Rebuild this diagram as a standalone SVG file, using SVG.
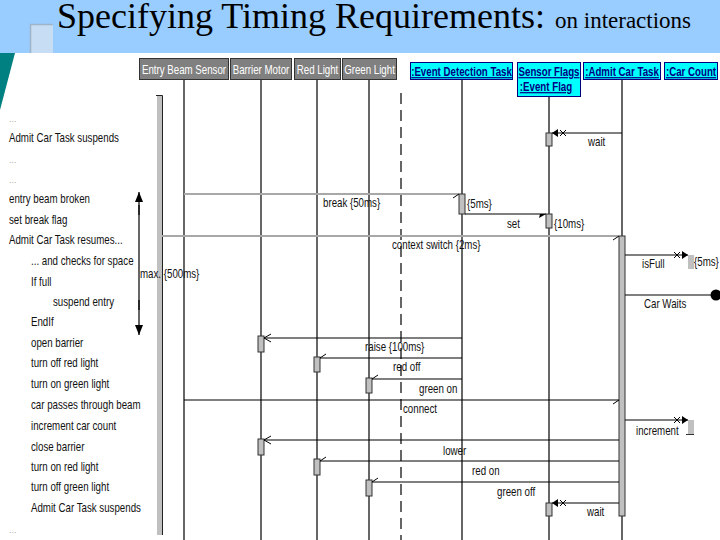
<svg xmlns="http://www.w3.org/2000/svg" width="720" height="540" viewBox="0 0 720 540">
<style>
.t{font-family:"Liberation Sans Narrow","Arial Narrow","Liberation Sans",sans-serif;font-size:12px;fill:#111}
.dots{font-family:"Liberation Sans",sans-serif;font-size:9px;fill:#aaa}
.hdr{fill:#808080;stroke:#333;stroke-width:1}
.hdrt{font-family:"Liberation Sans Narrow","Arial Narrow","Liberation Sans",sans-serif;font-size:12px;fill:#fff;text-anchor:middle}
.obj{fill:#00ffff;stroke:#000080;stroke-width:1}
.objt{font-family:"Liberation Sans Narrow","Arial Narrow","Liberation Sans",sans-serif;font-size:12px;fill:#000080;text-anchor:middle;text-decoration:underline;font-weight:bold}
.life{stroke:#000;stroke-width:1.2;fill:none}
.act{fill:#c0c0c0;stroke:#333;stroke-width:1}
.msg{stroke:#000;stroke-width:1.2;fill:none}
.gmsg{stroke:#a8a8a8;stroke-width:2;fill:none}
</style>
<defs>
<marker id="open" markerUnits="userSpaceOnUse" orient="auto" viewBox="-10 -6 12 12" markerWidth="12" markerHeight="12" refX="0" refY="0">
<path d="M-7,-4 L0,0 L-7,4" fill="none" stroke="#000" stroke-width="1"/>
</marker>
<marker id="tick" markerUnits="userSpaceOnUse" orient="auto" viewBox="-10 -6 12 12" markerWidth="12" markerHeight="12" refX="0" refY="0">
<path d="M-6,4 L0,0" fill="none" stroke="#000" stroke-width="1"/>
</marker>
<marker id="half" markerUnits="userSpaceOnUse" orient="auto" viewBox="-10 -6 12 12" markerWidth="12" markerHeight="12" refX="0" refY="0">
<path d="M0,0 L-7,4 L-6,0 Z" fill="#000"/>
</marker>
<marker id="balk" markerUnits="userSpaceOnUse" orient="auto" viewBox="-16 -6 18 12" markerWidth="18" markerHeight="12" refX="0" refY="0">
<path d="M0,0 L-6,-4 L-6,4 Z" fill="#000"/>
<path d="M-8,-3 L-14,3 M-8,3 L-14,-3" stroke="#000" stroke-width="1" fill="none"/>
</marker>
<marker id="up" markerUnits="userSpaceOnUse" orient="auto" viewBox="-10 -6 12 12" markerWidth="12" markerHeight="12" refX="0" refY="0">
<path d="M0,0 L-10,-4 L-10,4 Z" fill="#000"/>
</marker>
</defs>

<!-- title banner -->
<g id="banner">
<rect x="0" y="0" width="720" height="53" fill="#99ccff"/>
<rect x="30" y="24" width="23" height="29" fill="#c6ddf3"/>
<path d="M30.5,53 V24.5 H53" fill="none" stroke="#a0b4c8" stroke-width="1.5"/>
<polygon points="0,53 15,53 0,110" fill="#008080"/>
<text x="57" y="28" font-family="Liberation Serif,serif" font-size="36" fill="#000">Specifying Timing Requirements:<tspan x="555" font-size="23">on interactions</tspan></text>
</g>

<!-- left narrative -->
<g id="narrative">
<text class="dots" x="9" y="122">...</text>
<text class="t" transform="translate(9 142) scale(.81 1)">Admit Car Task suspends</text>
<text class="dots" x="9" y="163">...</text>
<text class="dots" x="9" y="183">...</text>
<text class="t" transform="translate(9 203) scale(.81 1)">entry beam broken</text>
<text class="t" transform="translate(9 224) scale(.81 1)">set break flag</text>
<text class="t" transform="translate(9 244) scale(.81 1)">Admit Car Task resumes...</text>
<text class="t" transform="translate(31 265) scale(.81 1)">... and checks for space</text>
<text class="t" transform="translate(31 286) scale(.81 1)">If full</text>
<text class="t" transform="translate(53 306) scale(.81 1)">suspend entry</text>
<text class="t" transform="translate(31 326) scale(.81 1)">EndIf</text>
<text class="t" transform="translate(31 347) scale(.81 1)">open barrier</text>
<text class="t" transform="translate(31 367) scale(.81 1)">turn off red light</text>
<text class="t" transform="translate(31 388) scale(.81 1)">turn on green light</text>
<text class="t" transform="translate(31 409) scale(.81 1)">car passes through beam</text>
<text class="t" transform="translate(31 430) scale(.81 1)">increment car count</text>
<text class="t" transform="translate(31 451) scale(.81 1)">close barrier</text>
<text class="t" transform="translate(31 471) scale(.81 1)">turn on red light</text>
<text class="t" transform="translate(31 491) scale(.81 1)">turn off green light</text>
<text class="t" transform="translate(31 512) scale(.81 1)">Admit Car Task suspends</text>
<text class="dots" x="9" y="533">...</text>
</g>

<!-- max 500ms constraint -->
<g id="constraint">
<line x1="139" y1="215" x2="139" y2="192" class="msg" marker-end="url(#up)"/>
<line x1="139" y1="300" x2="139" y2="335" class="msg" marker-end="url(#up)"/>
<line x1="139" y1="205" x2="139" y2="310" class="msg"/>
</g>

<!-- left activation (Admit Car Task context) -->
<g id="leftbar">
<rect x="157" y="95" width="5" height="440" fill="#c0c0c0"/>
<path d="M156,95.5 H162.5 V535" fill="none" stroke="#222" stroke-width="1"/>
</g>

<!-- lifelines -->
<g id="entry-beam-sensor">
<rect class="hdr" x="139.5" y="58.5" width="89" height="21"/>
<text class="hdrt" transform="translate(184 74) scale(.81 1)">Entry Beam Sensor</text>
<line class="life" x1="184" y1="80" x2="184" y2="540"/>
</g>
<g id="barrier-motor">
<rect class="hdr" x="230.5" y="58.5" width="61" height="21"/>
<text class="hdrt" transform="translate(261 74) scale(.81 1)">Barrier Motor</text>
<line class="life" x1="261" y1="80" x2="261" y2="540"/>
<rect class="act" x="258" y="336" width="6" height="16"/>
<rect class="act" x="258" y="439" width="6" height="16"/>
</g>
<g id="red-light">
<rect class="hdr" x="294.5" y="58.5" width="46" height="21"/>
<text class="hdrt" transform="translate(317.5 74) scale(.81 1)">Red Light</text>
<line class="life" x1="317" y1="80" x2="317" y2="540"/>
<rect class="act" x="314" y="357" width="6" height="15"/>
<rect class="act" x="314" y="459" width="6" height="16"/>
</g>
<g id="green-light">
<rect class="hdr" x="342.5" y="58.5" width="54" height="21"/>
<text class="hdrt" transform="translate(369.5 74) scale(.81 1)">Green Light</text>
<line class="life" x1="369" y1="80" x2="369" y2="540"/>
<rect class="act" x="366" y="378" width="6" height="15"/>
<rect class="act" x="366" y="480" width="6" height="16"/>
</g>
<g id="boundary">
<line x1="401" y1="93" x2="401" y2="540" stroke="#000" stroke-width="1.2" stroke-dasharray="11 6"/>
</g>
<g id="event-detection-task">
<rect class="obj" x="410.5" y="62.5" width="102" height="17"/>
<text class="objt" transform="translate(461.5 76) scale(.81 1)">:Event Detection Task</text>
<line class="life" x1="462" y1="80" x2="462" y2="540"/>
<rect class="act" x="459" y="194" width="6" height="20"/>
<text class="t" transform="translate(467 208) scale(.81 1)">{5ms}</text>
</g>
<g id="sensor-flags">
<rect class="obj" x="517.5" y="62.5" width="63" height="34"/>
<text class="objt" transform="translate(549 76) scale(.81 1)">Sensor Flags</text>
<text class="objt" transform="translate(546 91) scale(.81 1)">:Event Flag</text>
<line class="life" x1="549" y1="97" x2="549" y2="540"/>
<rect class="act" x="546" y="133" width="6" height="13"/>
<rect class="act" x="546" y="214" width="6" height="14"/>
<text class="t" transform="translate(554 228) scale(.81 1)">{10ms}</text>
<rect class="act" x="546" y="503" width="6" height="13"/>
</g>
<g id="admit-car-task">
<rect class="obj" x="583.5" y="62.5" width="77" height="17"/>
<text class="objt" transform="translate(622 76) scale(.81 1)">:Admit Car Task</text>
<line class="life" x1="622" y1="80" x2="622" y2="540"/>
<rect class="act" x="619" y="236" width="6" height="280"/>
</g>
<g id="car-count">
<rect class="obj" x="664.5" y="62.5" width="53" height="17"/>
<text class="objt" transform="translate(691 76) scale(.81 1)">:Car Count</text>
<rect x="688" y="255" width="6" height="14" fill="#c0c0c0"/>
<text class="t" transform="translate(694 266) scale(.81 1)">{5ms}</text>
<rect x="688" y="420" width="6" height="14" fill="#c0c0c0"/>
<line x1="686" y1="434.5" x2="694" y2="434.5" stroke="#333" stroke-width="1"/>
</g>

<!-- messages -->
<g id="connectors">
<line class="msg" x1="622" y1="133" x2="552" y2="133" marker-end="url(#balk)"/>
<text class="t" transform="translate(588 146) scale(.81 1)">wait</text>

<line class="gmsg" x1="184" y1="194" x2="459" y2="194"/>
<path d="M453,198 L459,194" stroke="#000" stroke-width="1" fill="none"/>
<text class="t" transform="translate(323 207) scale(.81 1)">break {50ms}</text>

<line class="msg" x1="465" y1="214" x2="546" y2="214" marker-end="url(#half)"/>
<text class="t" transform="translate(507 228) scale(.81 1)">set</text>

<line class="gmsg" x1="162" y1="236" x2="619" y2="236"/>
<path d="M613,240 L619,236" stroke="#000" stroke-width="1" fill="none"/>
<text class="t" transform="translate(392 249) scale(.81 1)">context switch {2ms}</text>

<line class="msg" x1="625" y1="255" x2="688" y2="255" marker-end="url(#balk)"/>
<text class="t" transform="translate(642 268) scale(.81 1)">isFull</text>

<line class="msg" x1="625" y1="295" x2="712" y2="295"/>
<circle cx="716" cy="295" r="5.5" fill="#000"/>
<text class="t" transform="translate(644 308) scale(.81 1)" font-size="13">Car Waits</text>

<line class="msg" x1="462" y1="338" x2="264" y2="338" marker-end="url(#open)"/>
<text class="t" transform="translate(365 351) scale(.81 1)">raise {100ms}</text>

<line class="msg" x1="462" y1="358" x2="320" y2="358" marker-end="url(#tick)"/>
<text class="t" transform="translate(393 371) scale(.81 1)">red off</text>

<line class="msg" x1="462" y1="379" x2="372" y2="379" marker-end="url(#tick)"/>
<text class="t" transform="translate(419 393) scale(.81 1)">green on</text>

<line class="msg" x1="184" y1="400" x2="619" y2="400" marker-end="url(#tick)"/>
<text class="t" transform="translate(403 413) scale(.81 1)">connect</text>

<line class="msg" x1="625" y1="420" x2="688" y2="420" marker-end="url(#balk)"/>
<text class="t" transform="translate(636 435) scale(.81 1)">increment</text>

<line class="msg" x1="619" y1="440" x2="264" y2="440" marker-end="url(#open)"/>
<text class="t" transform="translate(443 455) scale(.81 1)">lower</text>

<line class="msg" x1="619" y1="461" x2="320" y2="461" marker-end="url(#tick)"/>
<text class="t" transform="translate(472 475) scale(.81 1)">red on</text>

<line class="msg" x1="619" y1="482" x2="372" y2="482" marker-end="url(#tick)"/>
<text class="t" transform="translate(497 496) scale(.81 1)">green off</text>

<line class="msg" x1="619" y1="503" x2="552" y2="503" marker-end="url(#balk)"/>
<text class="t" transform="translate(587 516) scale(.81 1)">wait</text>

<text class="t" transform="translate(140 278) scale(.81 1)">max. {500ms}</text>
</g>
</svg>
